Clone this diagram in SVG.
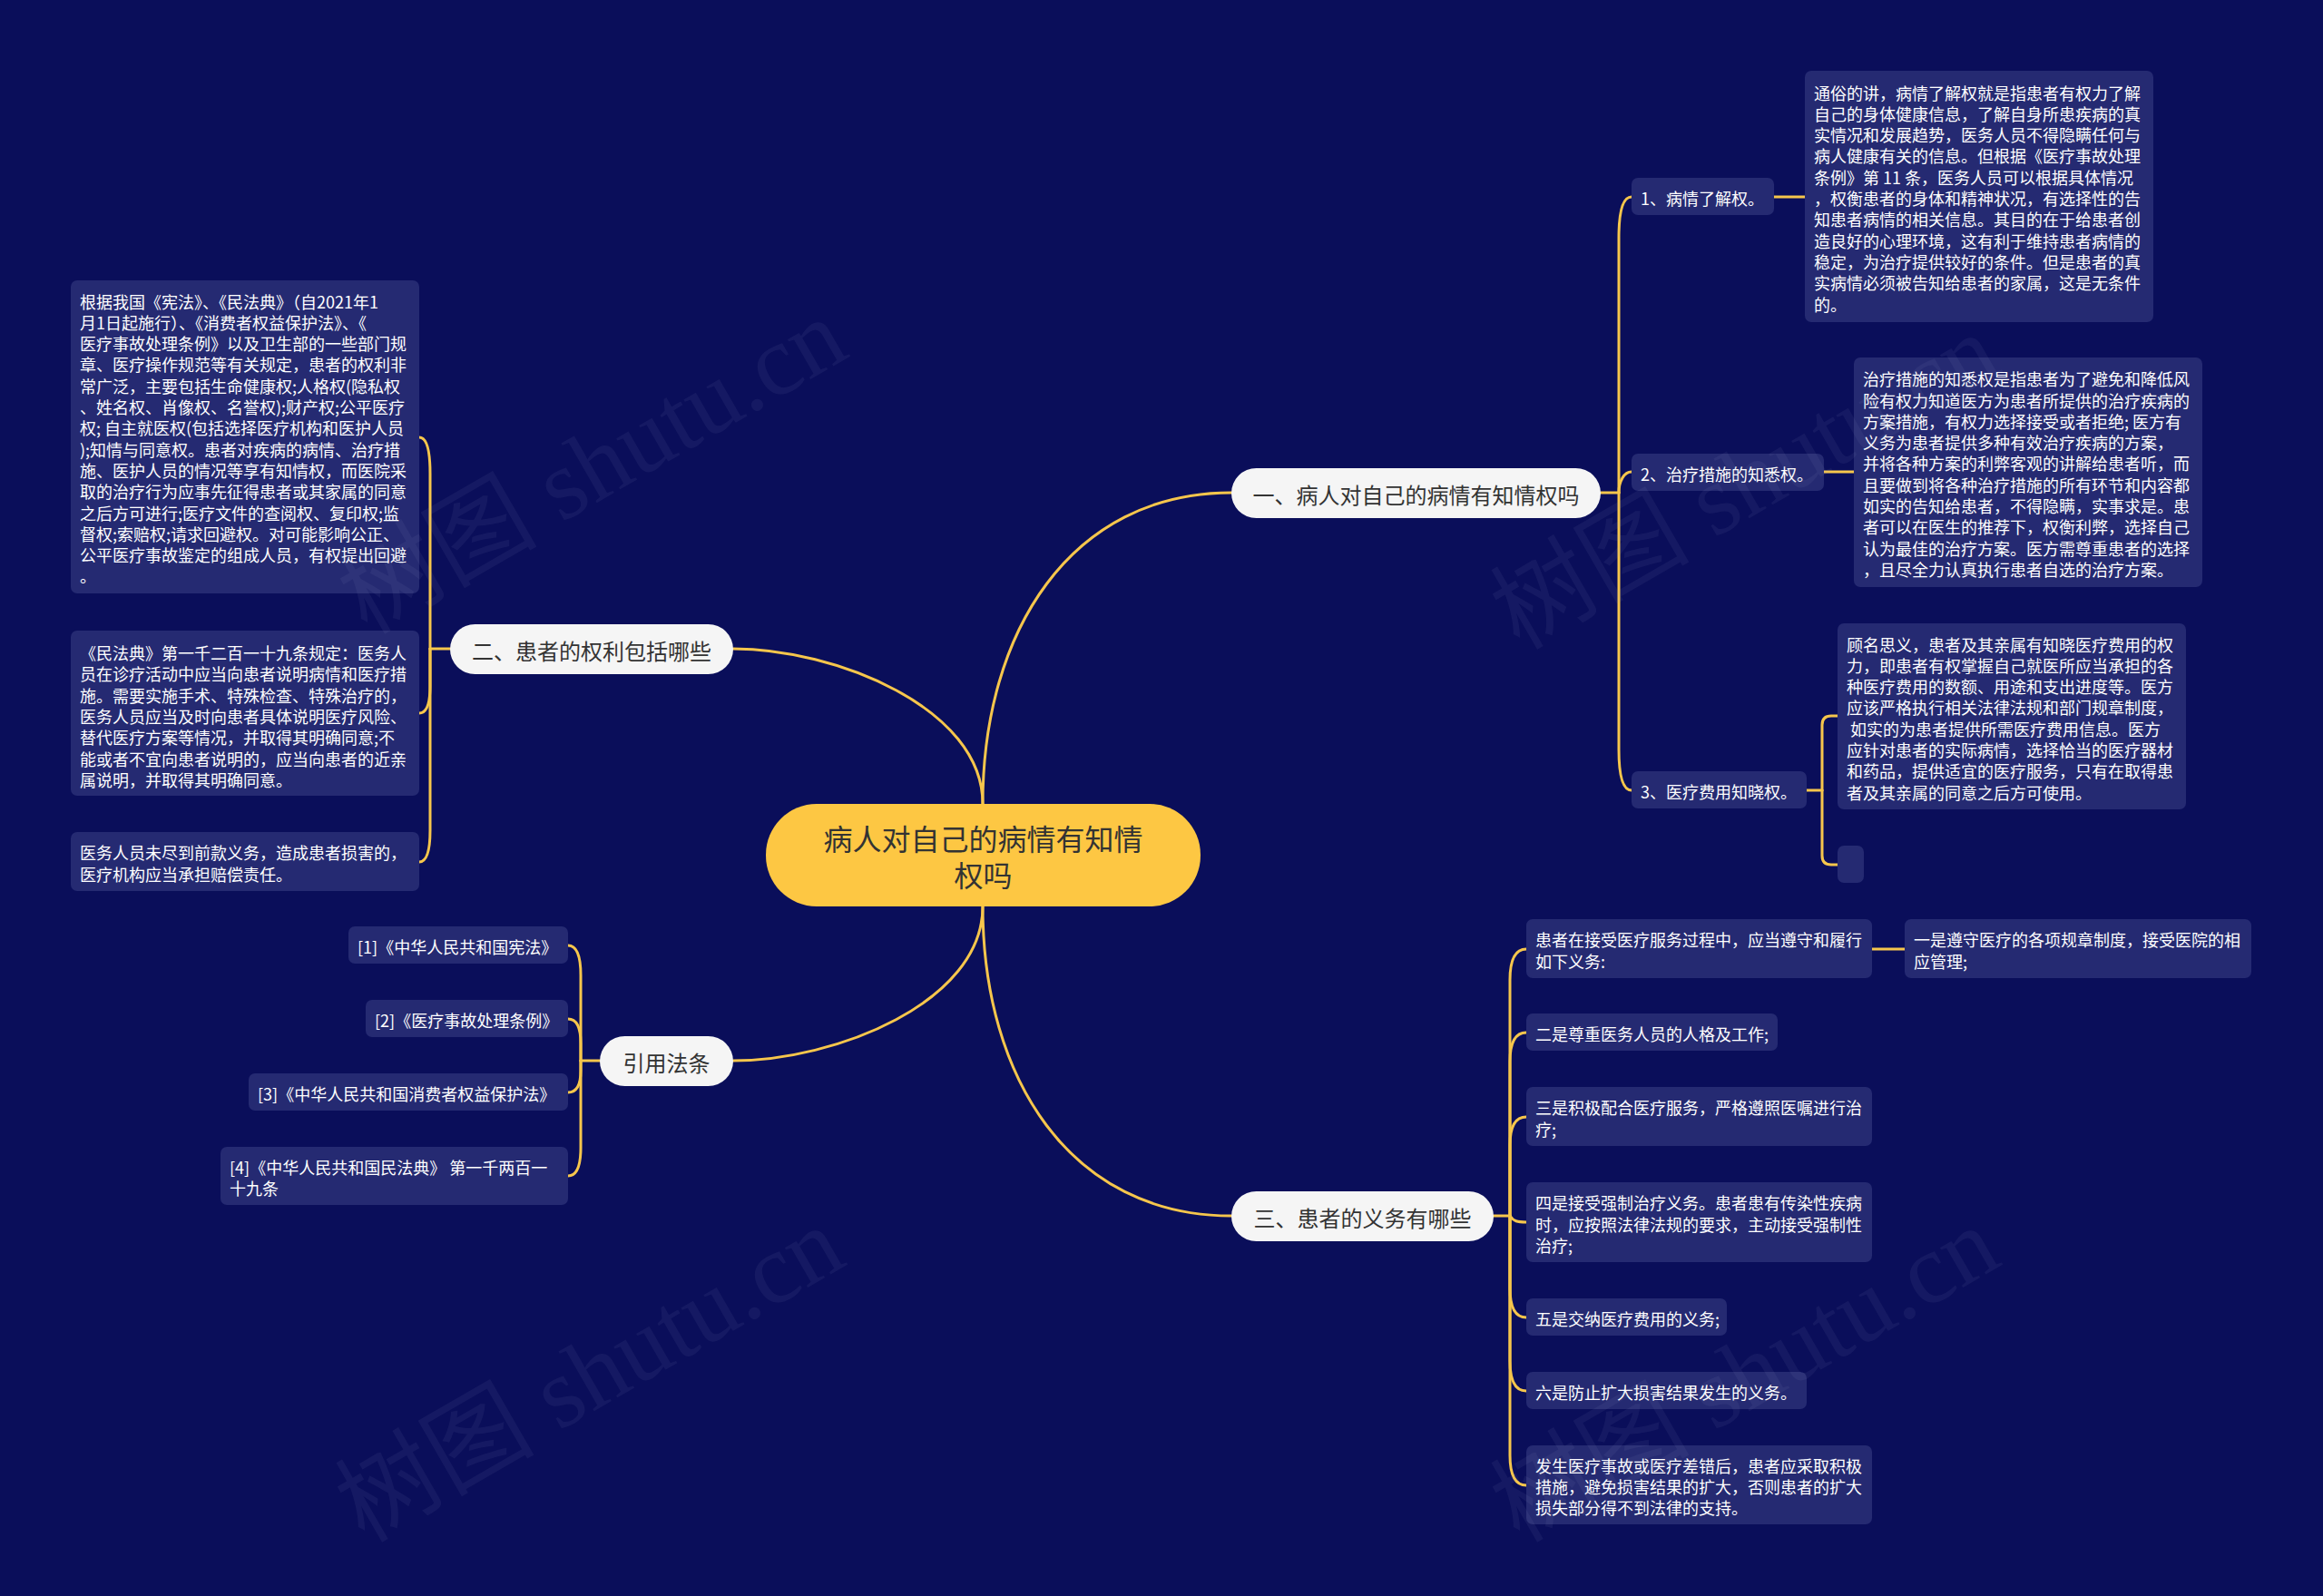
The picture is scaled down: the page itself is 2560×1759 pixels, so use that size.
<svg xmlns="http://www.w3.org/2000/svg" width="2560" height="1759" viewBox="0 0 2560 1759">
<style>
text{font-family:"Noto Sans CJK SC","Noto Sans",sans-serif;dominant-baseline:central}
.bg{fill:#0a0e5a}
.leaf{fill:#252a72}
.lt{fill:#ffffff;font-size:18px}
.pill{fill:#f5f5f5}
.pt{fill:#333333;font-size:24px;text-anchor:middle}
.root{fill:#fdc743}
.rt{fill:#333333;font-size:32px;text-anchor:middle}
.ln{fill:none;stroke:#f6c64c;stroke-width:3;stroke-linecap:round}
.wm{fill:#9aa0c8;opacity:0.08;font-family:"Liberation Serif","Noto Sans CJK SC",serif;font-size:110px;text-anchor:middle}
</style>
<rect class="bg" x="0" y="0" width="2560" height="1759"/>

<g id="connectors">
<path class="ln" d="M1083,886 C1083,696 1180,543 1357,543"/>
<path class="ln" d="M1083,886 C1083,780 920,715 808,715"/>
<path class="ln" d="M1083,999 C1083,1189 1180,1340 1357,1340"/>
<path class="ln" d="M1083,999 C1083,1105 920,1169 808,1169"/>
<path class="ln" d="M1764,543 H1784"/>
<path class="ln" d="M1784,543 V262 Q1784,217 1798,217"/>
<path class="ln" d="M1784,543 C1784,530 1790,520 1798,520"/>
<path class="ln" d="M1784,543 V826 Q1784,871 1798,871"/>
<path class="ln" d="M1955,217 H1989"/>
<path class="ln" d="M2010,520 H2043"/>
<path class="ln" d="M1991,871 H2008"/>
<path class="ln" d="M2008,871 V799 Q2008,789 2018,789 H2025"/>
<path class="ln" d="M2008,871 V943 Q2008,953 2018,953 H2025"/>
<path class="ln" d="M496,715 H474"/>
<path class="ln" d="M474,715 V522 Q474,482 462,482"/>
<path class="ln" d="M474,715 V756 Q474,786 462,786"/>
<path class="ln" d="M474,715 V915 Q474,950 462,950"/>
<path class="ln" d="M661,1169 H640"/>
<path class="ln" d="M640,1169 V1075 Q640,1042 626,1042"/>
<path class="ln" d="M640,1169 V1150 Q640,1123 626,1123"/>
<path class="ln" d="M640,1169 V1180 Q640,1204 626,1204"/>
<path class="ln" d="M640,1169 V1265 Q640,1296 626,1296"/>
<path class="ln" d="M1646,1340 H1664"/>
<path class="ln" d="M1664,1340 V1080 Q1664,1046 1682,1046"/>
<path class="ln" d="M1664,1340 V1170 Q1664,1138 1682,1138"/>
<path class="ln" d="M1664,1340 V1262 Q1664,1231 1682,1231"/>
<path class="ln" d="M1664,1340 C1668,1346 1672,1347 1682,1347"/>
<path class="ln" d="M1664,1340 V1420 Q1664,1452 1682,1452"/>
<path class="ln" d="M1664,1340 V1500 Q1664,1533 1682,1533"/>
<path class="ln" d="M1664,1340 V1604 Q1664,1637 1682,1637"/>
<path class="ln" d="M2063,1046 H2099"/>
</g>

<g id="root">
<rect class="root" x="844" y="886" width="479" height="113" rx="56"/>
<text class="rt" x="1083.5"><tspan x="1083.5" y="923">病人对自己的病情有知情</tspan><tspan x="1083.5" y="963">权吗</tspan></text>
</g>

<g id="b1">
<rect class="pill" x="1357" y="516" width="407" height="55" rx="27.5"/>
<text class="pt" x="1560.5" y="544">一、病人对自己的病情有知情权吗</text>
</g>
<g id="b2">
<rect class="pill" x="496" y="688" width="312" height="55" rx="27.5"/>
<text class="pt" x="652" y="716">二、患者的权利包括哪些</text>
</g>
<g id="b3">
<rect class="pill" x="661" y="1142" width="147" height="55" rx="27.5"/>
<text class="pt" x="734.5" y="1170">引用法条</text>
</g>
<g id="b4">
<rect class="pill" x="1357" y="1313" width="289" height="55" rx="27.5"/>
<text class="pt" x="1501.5" y="1341">三、患者的义务有哪些</text>
</g>

<g id="n1-1">
<rect class="leaf" x="1798" y="196" width="157" height="41" rx="7"/>
<text class="lt" x="1808" y="218">1、病情了解权。</text>
</g>
<g id="n1-2">
<rect class="leaf" x="1798" y="500" width="212" height="41" rx="7"/>
<text class="lt" x="1808" y="522">2、治疗措施的知悉权。</text>
</g>
<g id="n1-3">
<rect class="leaf" x="1798" y="850" width="193" height="41" rx="7"/>
<text class="lt" x="1808" y="872">3、医疗费用知晓权。</text>
</g>

<g id="n1-1-1">
<rect class="leaf" x="1989" y="78" width="384" height="277" rx="7"/>
<text class="lt">
<tspan x="1999" y="101.5">通俗的讲，病情了解权就是指患者有权力了解</tspan>
<tspan x="1999" y="124.8">自己的身体健康信息，了解自身所患疾病的真</tspan>
<tspan x="1999" y="148.1">实情况和发展趋势，医务人员不得隐瞒任何与</tspan>
<tspan x="1999" y="171.4">病人健康有关的信息。但根据《医疗事故处理</tspan>
<tspan x="1999" y="194.7">条例》第 11 条，医务人员可以根据具体情况</tspan>
<tspan x="1999" y="218">，权衡患者的身体和精神状况，有选择性的告</tspan>
<tspan x="1999" y="241.3">知患者病情的相关信息。其目的在于给患者创</tspan>
<tspan x="1999" y="264.6">造良好的心理环境，这有利于维持患者病情的</tspan>
<tspan x="1999" y="287.9">稳定，为治疗提供较好的条件。但是患者的真</tspan>
<tspan x="1999" y="311.2">实病情必须被告知给患者的家属，这是无条件</tspan>
<tspan x="1999" y="334.5">的。</tspan>
</text>
</g>

<g id="n1-2-1">
<rect class="leaf" x="2043" y="394" width="384" height="253" rx="7"/>
<text class="lt">
<tspan x="2053" y="417.2">治疗措施的知悉权是指患者为了避免和降低风</tspan>
<tspan x="2053" y="440.5">险有权力知道医方为患者所提供的治疗疾病的</tspan>
<tspan x="2053" y="463.8">方案措施，有权力选择接受或者拒绝; 医方有</tspan>
<tspan x="2053" y="487.1">义务为患者提供多种有效治疗疾病的方案，</tspan>
<tspan x="2053" y="510.4">并将各种方案的利弊客观的讲解给患者听，而</tspan>
<tspan x="2053" y="533.7">且要做到将各种治疗措施的所有环节和内容都</tspan>
<tspan x="2053" y="557">如实的告知给患者，不得隐瞒，实事求是。患</tspan>
<tspan x="2053" y="580.3">者可以在医生的推荐下，权衡利弊，选择自己</tspan>
<tspan x="2053" y="603.6">认为最佳的治疗方案。医方需尊重患者的选择</tspan>
<tspan x="2053" y="626.9">，且尽全力认真执行患者自选的治疗方案。</tspan>
</text>
</g>

<g id="n1-3-1">
<rect class="leaf" x="2025" y="687" width="384" height="205" rx="7"/>
<text class="lt">
<tspan x="2035" y="709.5">顾名思义，患者及其亲属有知晓医疗费用的权</tspan>
<tspan x="2035" y="732.8">力，即患者有权掌握自己就医所应当承担的各</tspan>
<tspan x="2035" y="756.1">种医疗费用的数额、用途和支出进度等。医方</tspan>
<tspan x="2035" y="779.4">应该严格执行相关法律法规和部门规章制度，</tspan>
<tspan x="2035" y="802.7">&#160;如实的为患者提供所需医疗费用信息。医方</tspan>
<tspan x="2035" y="826">应针对患者的实际病情，选择恰当的医疗器材</tspan>
<tspan x="2035" y="849.3">和药品，提供适宜的医疗服务，只有在取得患</tspan>
<tspan x="2035" y="872.6">者及其亲属的同意之后方可使用。</tspan>
</text>
</g>
<g id="n1-3-2">
<rect class="leaf" x="2025" y="932" width="29" height="41" rx="7"/>
</g>

<g id="n2-1">
<rect class="leaf" x="78" y="309" width="384" height="345" rx="7"/>
<text class="lt">
<tspan x="88" y="331.5">根据我国《宪法》、《民法典》（自2021年1</tspan>
<tspan x="88" y="354.8">月1日起施行）、《消费者权益保护法》、《</tspan>
<tspan x="88" y="378.1">医疗事故处理条例》以及卫生部的一些部门规</tspan>
<tspan x="88" y="401.4">章、医疗操作规范等有关规定，患者的权利非</tspan>
<tspan x="88" y="424.7">常广泛，主要包括生命健康权;人格权(隐私权</tspan>
<tspan x="88" y="448">、姓名权、肖像权、名誉权);财产权;公平医疗</tspan>
<tspan x="88" y="471.3">权; 自主就医权(包括选择医疗机构和医护人员</tspan>
<tspan x="88" y="494.6">);知情与同意权。患者对疾病的病情、治疗措</tspan>
<tspan x="88" y="517.9">施、医护人员的情况等享有知情权，而医院采</tspan>
<tspan x="88" y="541.2">取的治疗行为应事先征得患者或其家属的同意</tspan>
<tspan x="88" y="564.5">之后方可进行;医疗文件的查阅权、复印权;监</tspan>
<tspan x="88" y="587.8">督权;索赔权;请求回避权。对可能影响公正、</tspan>
<tspan x="88" y="611.1">公平医疗事故鉴定的组成人员，有权提出回避</tspan>
<tspan x="88" y="634.4">。</tspan>
</text>
</g>
<g id="n2-2">
<rect class="leaf" x="78" y="695" width="384" height="182" rx="7"/>
<text class="lt">
<tspan x="88" y="719">《民法典》第一千二百一十九条规定：医务人</tspan>
<tspan x="88" y="742.3">员在诊疗活动中应当向患者说明病情和医疗措</tspan>
<tspan x="88" y="765.6">施。需要实施手术、特殊检查、特殊治疗的，</tspan>
<tspan x="88" y="788.9">医务人员应当及时向患者具体说明医疗风险、</tspan>
<tspan x="88" y="812.2">替代医疗方案等情况，并取得其明确同意;不</tspan>
<tspan x="88" y="835.5">能或者不宜向患者说明的，应当向患者的近亲</tspan>
<tspan x="88" y="858.8">属说明，并取得其明确同意。</tspan>
</text>
</g>
<g id="n2-3">
<rect class="leaf" x="78" y="917" width="384" height="65" rx="7"/>
<text class="lt">
<tspan x="88" y="939.4">医务人员未尽到前款义务，造成患者损害的，</tspan>
<tspan x="88" y="962.7">医疗机构应当承担赔偿责任。</tspan>
</text>
</g>

<g id="c1">
<rect class="leaf" x="384" y="1021" width="242" height="41" rx="7"/>
<text class="lt" x="394" y="1043">[1]《中华人民共和国宪法》</text>
</g>
<g id="c2">
<rect class="leaf" x="403" y="1102" width="223" height="41" rx="7"/>
<text class="lt" x="413" y="1124">[2]《医疗事故处理条例》</text>
</g>
<g id="c3">
<rect class="leaf" x="274" y="1183" width="352" height="41" rx="7"/>
<text class="lt" x="284" y="1205">[3]《中华人民共和国消费者权益保护法》</text>
</g>
<g id="c4">
<rect class="leaf" x="243" y="1264" width="383" height="64" rx="7"/>
<text class="lt">
<tspan x="253" y="1285.5">[4]《中华人民共和国民法典》 第一千两百一</tspan>
<tspan x="253" y="1308.8">十九条</tspan>
</text>
</g>

<g id="d1">
<rect class="leaf" x="1682" y="1013" width="381" height="65" rx="7"/>
<text class="lt">
<tspan x="1692" y="1035.4">患者在接受医疗服务过程中，应当遵守和履行</tspan>
<tspan x="1692" y="1058.7">如下义务:</tspan>
</text>
</g>
<g id="d1-1">
<rect class="leaf" x="2099" y="1013" width="382" height="65" rx="7"/>
<text class="lt">
<tspan x="2109" y="1035.4">一是遵守医疗的各项规章制度，接受医院的相</tspan>
<tspan x="2109" y="1058.7">应管理;</tspan>
</text>
</g>
<g id="d2">
<rect class="leaf" x="1682" y="1117" width="277" height="41" rx="7"/>
<text class="lt" x="1692" y="1139">二是尊重医务人员的人格及工作;</text>
</g>
<g id="d3">
<rect class="leaf" x="1682" y="1198" width="381" height="65" rx="7"/>
<text class="lt">
<tspan x="1692" y="1220.4">三是积极配合医疗服务，严格遵照医嘱进行治</tspan>
<tspan x="1692" y="1243.7">疗;</tspan>
</text>
</g>
<g id="d4">
<rect class="leaf" x="1682" y="1303" width="381" height="88" rx="7"/>
<text class="lt">
<tspan x="1692" y="1325.2">四是接受强制治疗义务。患者患有传染性疾病</tspan>
<tspan x="1692" y="1348.5">时，应按照法律法规的要求，主动接受强制性</tspan>
<tspan x="1692" y="1371.8">治疗;</tspan>
</text>
</g>
<g id="d5">
<rect class="leaf" x="1682" y="1431" width="221" height="41" rx="7"/>
<text class="lt" x="1692" y="1453">五是交纳医疗费用的义务;</text>
</g>
<g id="d6">
<rect class="leaf" x="1682" y="1512" width="309" height="41" rx="7"/>
<text class="lt" x="1692" y="1534">六是防止扩大损害结果发生的义务。</text>
</g>
<g id="d7">
<rect class="leaf" x="1682" y="1593" width="381" height="87" rx="7"/>
<text class="lt">
<tspan x="1692" y="1614.7">发生医疗事故或医疗差错后，患者应采取积极</tspan>
<tspan x="1692" y="1638">措施，避免损害结果的扩大，否则患者的扩大</tspan>
<tspan x="1692" y="1661.3">损失部分得不到法律的支持。</tspan>
</text>
</g>

<g id="watermark">
<text class="wm" transform="translate(653,514) rotate(-30)">树图 shutu.cn</text>
<text class="wm" transform="translate(650,1515) rotate(-30)">树图 shutu.cn</text>
<text class="wm" transform="translate(1923,531) rotate(-30)">树图 shutu.cn</text>
<text class="wm" transform="translate(1923,1515) rotate(-30)">树图 shutu.cn</text>
</g>
</svg>
